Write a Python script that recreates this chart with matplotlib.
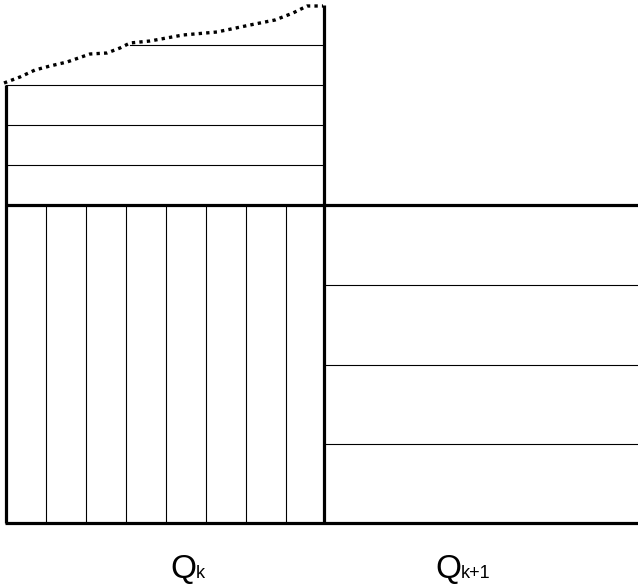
import matplotlib.pyplot as plt

# positions in picture pixels (y grows downwards)
left_x, mid_x, right_x = 6, 324, 638
base_y, split_y = 523, 205

upper_left_rows = [85, 125, 165]
lower_left_cols = [46, 86, 126, 166, 206, 246, 286]
right_rows = [285, 365, 444]

surface_x = [4, 20, 35, 50, 67, 90, 107, 120, 130, 150, 183, 217, 250, 275, 293, 307, 323]
surface_y = [83, 77, 70, 66, 62, 54, 53, 48, 43, 41, 35, 32, 25, 20, 13, 6, 6]

labels = [("Q", "k", 170), ("Q", "k+1", 435)]

THICK = 2.3
THIN = 0.8

fig = plt.figure(figsize=(6.38, 5.84), dpi=100)
ax = fig.add_axes([0, 0, 1, 1])
ax.set_xlim(0, 638)
ax.set_ylim(584, 0)
ax.axis("off")

# frame
ax.plot([left_x, left_x], [upper_left_rows[0], base_y], color="black", lw=THICK, solid_capstyle="butt")
ax.plot([mid_x, mid_x], [5, base_y + 1], color="black", lw=THICK, solid_capstyle="butt")
ax.plot([left_x - 1, right_x], [split_y, split_y], color="black", lw=THICK, solid_capstyle="butt")
ax.plot([left_x - 1, right_x], [base_y, base_y], color="black", lw=THICK, solid_capstyle="butt")

# thin layers
ax.plot([130, mid_x], [45, 45], color="black", lw=THIN)
for y in upper_left_rows:
    ax.plot([left_x, mid_x], [y, y], color="black", lw=THIN)
for x in lower_left_cols:
    ax.plot([x, x], [split_y, base_y], color="black", lw=THIN)
for y in right_rows:
    ax.plot([mid_x, right_x], [y, y], color="black", lw=THIN)

# dotted surface
ax.plot(surface_x, surface_y, color="black", lw=2.4, linestyle=(0, (1, 1.25)),
        dash_capstyle="butt")

# labels
font = ["Liberation Sans", "DejaVu Sans"]
for big, sub, x in labels:
    ax.text(x, 578, big, fontsize=24, family=font, ha="left", va="baseline")
    ax.text(x + 26, 578, sub, fontsize=13, family=font, ha="left", va="baseline")

fig.savefig("out.png", dpi=100)
